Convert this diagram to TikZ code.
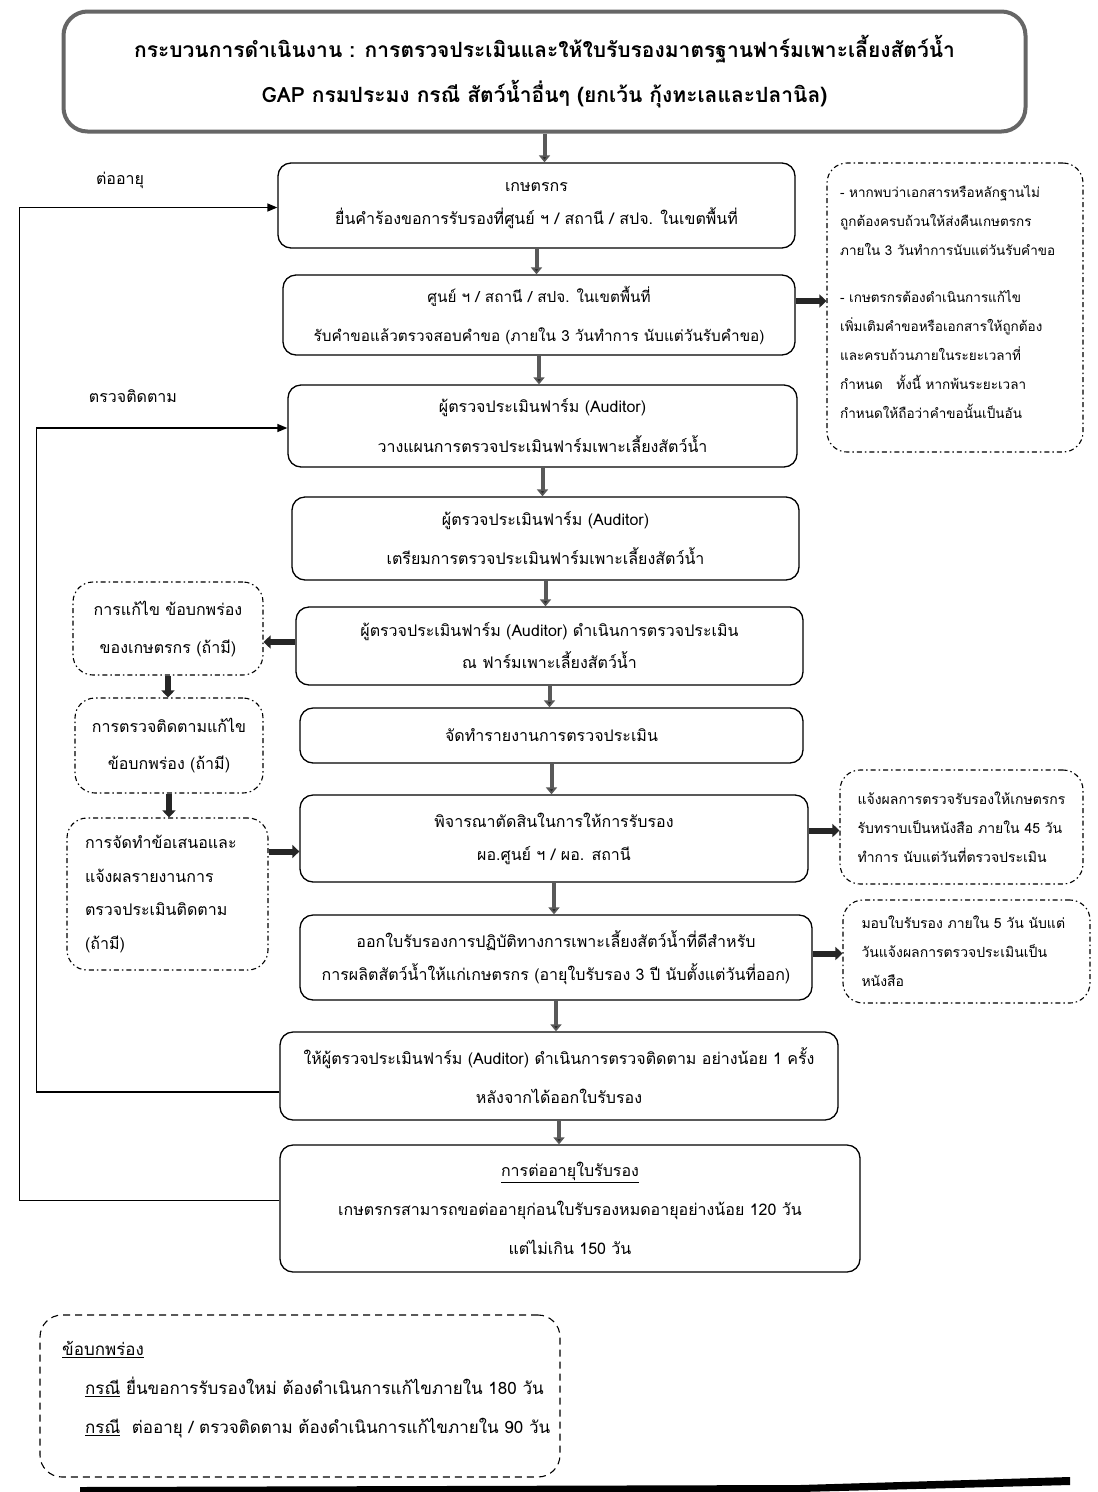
\documentclass[tikz,border=0pt]{standalone}
\usepackage{fontspec}
\newfontfamily\thai[Script=Thai]{Loma}
\usetikzlibrary{arrows.meta,calc}
\begin{document}
\begin{tikzpicture}[x=1pt,y=-1pt,
  mainbox/.style={draw, rounded corners=13pt, line width=1.3pt, inner sep=0pt, align=center},
  sidebox/.style={draw, rounded corners=20pt, line width=1.1pt, inner sep=0pt,
     dash pattern=on 5pt off 3pt on 1.5pt off 3pt},
  notebox/.style={draw, rounded corners=22pt, line width=1.1pt, inner sep=0pt, dash pattern=on 7pt off 5pt},
  flow/.style={line width=4pt, draw=black!65, -{Triangle[width=11pt,length=7pt,fill=black!85]}},
  sidearr/.style={line width=6pt, draw=black!85, -{Triangle[width=13pt,length=7pt]}},
  fb/.style={line width=1.3pt, -{Triangle[width=8pt,length=10pt]}},
  txt/.style={font=\thai\fontsize{16}{33}\selectfont},
  stxt/.style={font=\thai\fontsize{14}{29}\selectfont},
  lbl/.style={font=\thai\fontsize{16}{20}\selectfont}
]
\useasboundingbox (0,0) rectangle (1098,1492);
\fill[white] (0,0) rectangle (1098,1492);

% title
\node[draw=black!60, line width=4pt, rounded corners=24pt, minimum width=962pt, minimum height=120pt, inner sep=0pt, align=center,
  font=\thai\bfseries\fontsize{21}{45}\selectfont] (title) at (544.5,71.5)
  {กระบวนการดำเนินงาน : การตรวจประเมินและให้ใบรับรองมาตรฐานฟาร์มเพาะเลี้ยงสัตว์น้ำ\\GAP กรมประมง กรณี สัตว์น้ำอื่นๆ (ยกเว้น กุ้งทะเลและปลานิล)};

% main boxes
\node[mainbox, txt, minimum width=517pt, minimum height=85pt] (b1) at (536.5,205.5)
  {เกษตรกร\\ยื่นคำร้องขอการรับรองที่ศูนย์ ฯ / สถานี / สปจ. ในเขตพื้นที่};
\node[mainbox, txt, font=\thai\fontsize{15.3}{39}\selectfont, minimum width=512pt, minimum height=80pt] (b2) at (539,315)
  {ศูนย์ ฯ / สถานี / สปจ. ในเขตพื้นที่\\รับคำขอแล้วตรวจสอบคำขอ (ภายใน 3 วันทำการ นับแต่วันรับคำขอ)};
\node[mainbox, txt, font=\thai\fontsize{16}{40}\selectfont, minimum width=509pt, minimum height=82pt] (b3) at (542.5,426)
  {ผู้ตรวจประเมินฟาร์ม (Auditor)\\วางแผนการตรวจประเมินฟาร์มเพาะเลี้ยงสัตว์น้ำ};
\node[mainbox, txt, font=\thai\fontsize{16}{39}\selectfont, minimum width=507pt, minimum height=83pt] (b4) at (545.5,538.5)
  {ผู้ตรวจประเมินฟาร์ม (Auditor)\\เตรียมการตรวจประเมินฟาร์มเพาะเลี้ยงสัตว์น้ำ};
\node[mainbox, txt, font=\thai\fontsize{16}{32}\selectfont, minimum width=507pt, minimum height=78pt] (b5) at (549.5,646)
  {ผู้ตรวจประเมินฟาร์ม (Auditor) ดำเนินการตรวจประเมิน\\ณ ฟาร์มเพาะเลี้ยงสัตว์น้ำ};
\node[mainbox, txt, minimum width=503pt, minimum height=55pt] (b6) at (551.5,735.5)
  {จัดทำรายงานการตรวจประเมิน};
\node[mainbox, txt, minimum width=508pt, minimum height=87pt] (b7) at (554,838.5)
  {พิจารณาตัดสินในการให้การรับรอง\\ผอ.ศูนย์ ฯ / ผอ. สถานี};
\node[mainbox, txt, minimum width=512pt, minimum height=85pt] (b8) at (556,957.5)
  {ออกใบรับรองการปฏิบัติทางการเพาะเลี้ยงสัตว์น้ำที่ดีสำหรับ\\การผลิตสัตว์น้ำให้แก่เกษตรกร (อายุใบรับรอง 3 ปี นับตั้งแต่วันที่ออก)};
\node[mainbox, txt, font=\thai\fontsize{16}{39}\selectfont, minimum width=558pt, minimum height=88pt] (b9) at (559,1076)
  {ให้ผู้ตรวจประเมินฟาร์ม (Auditor) ดำเนินการตรวจติดตาม อย่างน้อย 1 ครั้ง\\หลังจากได้ออกใบรับรอง};
\node[mainbox, txt, font=\thai\fontsize{16}{39}\selectfont, minimum width=580pt, minimum height=127pt] (b10) at (570,1208.5)
  {\underline{การต่ออายุใบรับรอง}\\เกษตรกรสามารถขอต่ออายุก่อนใบรับรองหมดอายุอย่างน้อย 120 วัน\\แต่ไม่เกิน 150 วัน};

% right side boxes
\node[sidebox, minimum width=256pt, minimum height=289pt] (r1) at (955,307.5) {};
\node[stxt, font=\thai\fontsize{13.5}{29}\selectfont, align=left, anchor=north west, inner sep=0pt] (r1t) at (840,185)
  {- หากพบว่าเอกสารหรือหลักฐานไม่\\ถูกต้องครบถ้วนให้ส่งคืนเกษตรกร\\ภายใน 3 วันทำการนับแต่วันรับคำขอ\\[18pt]- เกษตรกรต้องดำเนินการแก้ไข\\เพิ่มเติมคำขอหรือเอกสารให้ถูกต้อง\\และครบถ้วนภายในระยะเวลาที่\\กำหนด\quad ทั้งนี้ หากพ้นระยะเวลา\\กำหนดให้ถือว่าคำขอนั้นเป็นอัน};
\node[sidebox, stxt, align=left, minimum width=243pt, minimum height=114pt] (r2) at (961.5,827)
  {แจ้งผลการตรวจรับรองให้เกษตรกร\\รับทราบเป็นหนังสือ ภายใน 45 วัน\\ทำการ นับแต่วันที่ตรวจประเมิน};
\node[sidebox, stxt, align=left, text width=210pt, minimum width=247pt, minimum height=103pt] (r3) at (966.5,951.5)
  {มอบใบรับรอง ภายใน 5 วัน นับแต่\\วันแจ้งผลการตรวจประเมินเป็น\\หนังสือ};

% left side boxes
\node[sidebox, txt, font=\thai\fontsize{16}{38}\selectfont, align=center, minimum width=190pt, minimum height=93pt] (l1) at (168,628.5)
  {การแก้ไข ข้อบกพร่อง\\ของเกษตรกร (ถ้ามี)};
\node[sidebox, txt, font=\thai\fontsize{16}{37}\selectfont, align=center, minimum width=188pt, minimum height=95pt] (l2) at (169,745.5)
  {การตรวจติดตามแก้ไข\\ข้อบกพร่อง (ถ้ามี)};
\node[sidebox, txt, font=\thai\fontsize{16}{33.5}\selectfont, align=left, text width=165pt, minimum width=201pt, minimum height=152pt] (l3) at (167.5,894)
  {การจัดทำข้อเสนอและ\\แจ้งผลรายงานการ\\ตรวจประเมินติดตาม\\(ถ้ามี)};

% note box
\node[notebox, minimum width=520pt, minimum height=162pt] (nb) at (300,1396) {};
\node[txt, font=\thai\fontsize{17}{39}\selectfont, align=left, anchor=north west, inner sep=0pt] (nbt) at (62,1341)
  {\underline{ข้อบกพร่อง}\\\hspace*{23pt}\underline{กรณี} ยื่นขอการรับรองใหม่ ต้องดำเนินการแก้ไขภายใน 180 วัน\\\hspace*{23pt}\underline{กรณี}\ \ ต่ออายุ / ตรวจติดตาม ต้องดำเนินการแก้ไขภายใน 90 วัน};

% labels
\node[lbl] (lab1) at (120,180) {ต่ออายุ};
\node[lbl] (lab2) at (133,396) {ตรวจติดตาม};

% flow arrows
\draw[flow] (title.south) -- (title.south |- b1.north);
\draw[flow] (b1.south) -- (b1.south |- b2.north);
\draw[flow] (b2.south) -- (b2.south |- b3.north);
\draw[flow] (b3.south) -- (b3.south |- b4.north);
\draw[flow] (b4.south) -- (b4.south |- b5.north);
\draw[flow] (b5.south) -- (b5.south |- b6.north);
\draw[flow] (b6.south) -- (b6.south |- b7.north);
\draw[flow] (b7.south) -- (b7.south |- b8.north);
\draw[flow] (b8.south) -- (b8.south |- b9.north);
\draw[flow] (b9.south) -- (b9.south |- b10.north);

% side arrows
\coordinate (c2) at ([yshift=14pt]b2.east);
\draw[sidearr] (c2) -- (c2 -| r1.west);
\coordinate (c7) at ([yshift=8pt]b7.east);
\draw[sidearr] (c7) -- (c7 -| r2.west);
\coordinate (c8) at ([yshift=4pt]b8.east);
\draw[sidearr] (c8) -- (c8 -| r3.west);
\coordinate (c5) at ([yshift=4pt]b5.west);
\draw[sidearr] (c5) -- (c5 -| l1.east);
\draw[sidearr] (l1.south) -- (l1.south |- l2.north);
\draw[sidearr] (l2.south) -- (l2.south |- l3.north);
\coordinate (c3) at ([yshift=-13pt]b7.west);
\draw[sidearr] (c3 -| l3.east) -- (c3);

% feedback loops
\draw[fb] ([yshift=8pt]b10.west) -- ++(-260,0) |- ([yshift=-2pt]b1.west);
\draw[fb] ([yshift=-16pt]b9.west) -- ++(-243,0) |- ([yshift=-2pt]b3.west);

% bottom bar
\fill[black] (80,1487) -- (800,1485) -- (1070,1477) -- (1070,1485) -- (800,1492) -- (80,1492) -- cycle;
\end{tikzpicture}
\end{document}
